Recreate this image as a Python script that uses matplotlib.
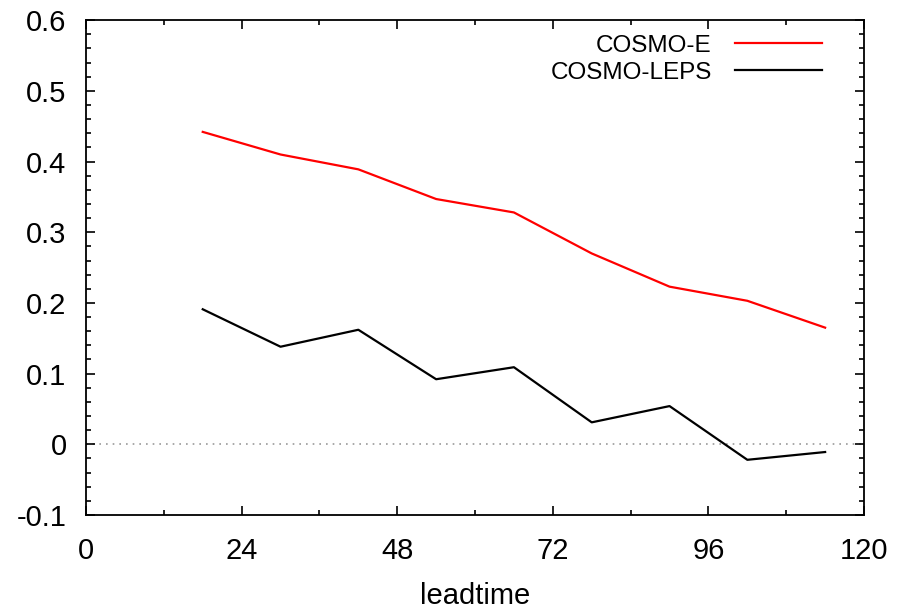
import numpy as np
import matplotlib
matplotlib.use('Agg')
import matplotlib.pyplot as plt
from matplotlib.ticker import MultipleLocator, FuncFormatter

# Data
leadtime = [18, 30, 42, 54, 66, 78, 90, 102, 114]
cosmo_e = [0.442, 0.410, 0.389, 0.347, 0.328, 0.270, 0.223, 0.203, 0.165]
cosmo_leps = [0.191, 0.138, 0.162, 0.092, 0.109, 0.031, 0.054, -0.022, -0.011]

plt.rcParams['font.family'] = ['Liberation Sans', 'DejaVu Sans']
plt.rcParams['axes.unicode_minus'] = False

fig = plt.figure(figsize = (8.99, 6.13), dpi = 100)
ax = fig.add_axes([0.0957, 0.160, 0.8654, 0.807])

ax.axhline(0, color = '#999999', linestyle = (0, (1, 3)), linewidth = 1.2, zorder = 1)
ax.plot(leadtime, cosmo_e, color = '#ff0000', linewidth = 1.6, label = 'COSMO-E')
ax.plot(leadtime, cosmo_leps, color = 'black', linewidth = 1.6, label = 'COSMO-LEPS')

ax.set_xlim(0, 120)
ax.set_ylim(-0.1, 0.6)
ax.xaxis.set_major_locator(MultipleLocator(24))
ax.xaxis.set_minor_locator(MultipleLocator(12))
ax.yaxis.set_major_locator(MultipleLocator(0.1))
ax.yaxis.set_minor_locator(MultipleLocator(0.02))
ax.yaxis.set_major_formatter(FuncFormatter(lambda v, p: f"{v:.1f}".rstrip('0').rstrip('.') if abs(v) > 1e-9 else "0"))

for s in ax.spines.values():
    s.set_linewidth(1.3)
ax.tick_params(which = 'both', direction = 'in', top = True, right = True, width = 1.2)
ax.tick_params(which = 'major', length = 6.5, labelsize = 21)
ax.tick_params(which = 'minor', length = 3.5)
ax.tick_params(axis = 'y', which = 'major', pad = 14)
ax.tick_params(axis = 'x', which = 'major', pad = 16)

ax.set_xlabel('leadtime', fontsize = 21, labelpad = 12)

ax.legend(loc = 'upper right', frameon = False, markerfirst = False, fontsize = 17.5,
          handlelength = 3.6, handletextpad = 0.95, labelspacing = 0.2,
          borderaxespad = 0.2, bbox_to_anchor = (0.965, 1.0))

fig.savefig('out.png', dpi = 100)
